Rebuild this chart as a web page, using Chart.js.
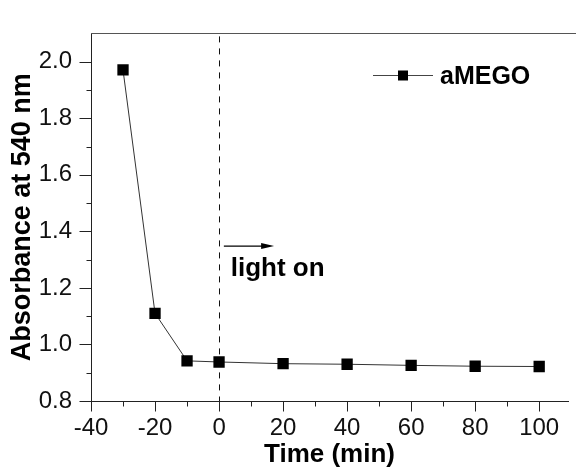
<!DOCTYPE html>
<html><head><meta charset="utf-8">
<script src="https://cdn.jsdelivr.net/npm/chart.js@4.4.1/dist/chart.umd.min.js"></script>
<style>html,body{margin:0;padding:0;background:#fff;}#wrap{width:576px;height:468px;position:relative;overflow:hidden;}</style>
</head><body><div id="wrap"><canvas id="c" width="576" height="468"></canvas></div>
<script>
// ---- data ----
const timeMin = [-30, -20, -10, 0, 20, 40, 60, 80, 100];
const absorbance = [1.971, 1.110, 0.942, 0.938, 0.932, 0.930, 0.926, 0.923, 0.922];
const seriesName = 'aMEGO';
const xTickValues = [-40, -20, 0, 20, 40, 60, 80, 100];
const xMinorValues = [-30, -10, 10, 30, 50, 70, 90];
const yTickValues = [0.8, 1.0, 1.2, 1.4, 1.6, 1.8, 2.0];
const yMinorValues = [0.9, 1.1, 1.3, 1.5, 1.7, 1.9];
const lightOnTime = 0;
const annotationText = 'light on';
const xTitle = 'Time (min)';
const yTitle = 'Absorbance at 540 nm';

const FONT = "'Liberation Sans', Arial, sans-serif";

const decor = {
  id: 'decor',
  beforeDatasetsDraw(chart) {
    const ctx = chart.ctx, xs = chart.scales.x, ca = chart.chartArea;
    const px = Math.round(xs.getPixelForValue(lightOnTime)) + 0.5;
    ctx.save();
    ctx.strokeStyle = '#111'; ctx.lineWidth = 1; ctx.setLineDash([6, 6]);
    ctx.beginPath(); ctx.moveTo(px, ca.top + 3); ctx.lineTo(px, ca.bottom); ctx.stroke();
    ctx.restore();
  },
  afterDraw(chart) {
    const ctx = chart.ctx, xs = chart.scales.x, ys = chart.scales.y, ca = chart.chartArea;
    ctx.save();
    // top frame line
    ctx.strokeStyle = '#555'; ctx.lineWidth = 1;
    ctx.beginPath(); ctx.moveTo(ca.left, Math.round(ca.top) + 0.5); ctx.lineTo(576, Math.round(ca.top) + 0.5); ctx.stroke();
    // ticks
    ctx.strokeStyle = '#222';
    const bx = Math.round(ca.left) + 0.5, by = Math.round(ca.bottom) + 0.5;
    const drawX = (vals, len) => vals.forEach(v => { const p = Math.round(xs.getPixelForValue(v)) + 0.5; ctx.beginPath(); ctx.moveTo(p, by); ctx.lineTo(p, by + len); ctx.stroke(); });
    const drawY = (vals, len) => vals.forEach(v => { const p = Math.round(ys.getPixelForValue(v)) + 0.5; ctx.beginPath(); ctx.moveTo(bx, p); ctx.lineTo(bx - len, p); ctx.stroke(); });
    drawX(xTickValues, 10); drawX(xMinorValues, 5);
    drawY(yTickValues, 12); drawY(yMinorValues, 5);
    // arrow
    const ay = ys.getPixelForValue(1.348);
    const ax0 = xs.getPixelForValue(1.5), ax1 = xs.getPixelForValue(17.2);
    ctx.strokeStyle = '#000'; ctx.fillStyle = '#000'; ctx.lineWidth = 1.3;
    ctx.beginPath(); ctx.moveTo(ax0, ay); ctx.lineTo(ax1 - 8, ay); ctx.stroke();
    ctx.beginPath(); ctx.moveTo(ax1, ay); ctx.lineTo(ax1 - 13, ay - 3); ctx.lineTo(ax1 - 13, ay + 3); ctx.closePath(); ctx.fill();
    // annotation text
    ctx.font = "bold 26px " + FONT; ctx.textAlign = 'left'; ctx.textBaseline = 'middle';
    ctx.fillText(annotationText, xs.getPixelForValue(3.66), ys.getPixelForValue(1.266));
    // legend
    const ds = chart.data.datasets[0];
    ctx.strokeStyle = '#444'; ctx.lineWidth = 1;
    ctx.beginPath(); ctx.moveTo(373, 75.5); ctx.lineTo(433, 75.5); ctx.stroke();
    ctx.fillStyle = '#000'; ctx.fillRect(398, 70.5, 10, 10);
    ctx.font = "bold 25px " + FONT; ctx.textBaseline = 'middle';
    ctx.fillText(ds.label, 440, 77);
    ctx.restore();
  }
};

new Chart(document.getElementById('c'), {
  type: 'line',
  data: {
    datasets: [{
      label: seriesName,
      data: timeMin.map((t, i) => ({ x: t, y: absorbance[i] })),
      borderColor: '#333', borderWidth: 1,
      pointStyle: 'rect', pointRadius: 8, pointHoverRadius: 8,
      pointBackgroundColor: '#000', pointBorderWidth: 0,
      tension: 0, fill: false
    }]
  },
  options: {
    responsive: false, animation: false, devicePixelRatio: 1,
    layout: { padding: { top: 14, left: 0, right: 0, bottom: 0 } },
    plugins: { legend: { display: false }, tooltip: { enabled: false } },
    scales: {
      x: {
        type: 'linear', min: -40, max: 109,
        afterBuildTicks: s => { s.ticks = xTickValues.map(v => ({ value: v })); },
        afterFit: s => { s.height = 67; },
        grid: { display: true, drawOnChartArea: false, drawTicks: false },
        border: { display: true, color: '#222', width: 1 },
        ticks: { color: '#111', font: { family: FONT, size: 24 }, padding: 13, maxRotation: 0, autoSkip: false,
          callback: v => String(v) },
        title: { display: true, text: xTitle, color: '#000', font: { family: FONT, size: 26, weight: 'bold', lineHeight: 1.0 }, padding: { top: 0, bottom: 0 } }
      },
      y: {
        type: 'linear', min: 0.8, max: 2.1,
        afterBuildTicks: s => { s.ticks = yTickValues.map(v => ({ value: v })); },
        afterFit: s => { s.width = 91; },
        grid: { display: true, drawOnChartArea: false, drawTicks: false },
        border: { display: true, color: '#222', width: 1 },
        ticks: { color: '#111', font: { family: FONT, size: 24 }, padding: 19, autoSkip: false,
          callback: v => Number(v).toFixed(1) },
        title: { display: true, text: yTitle, color: '#000', font: { family: FONT, size: 27, weight: 'bold', lineHeight: 1.0 }, padding: { top: 9, bottom: 0 } }
      }
    }
  },
  plugins: [decor]
});
</script></body></html>
